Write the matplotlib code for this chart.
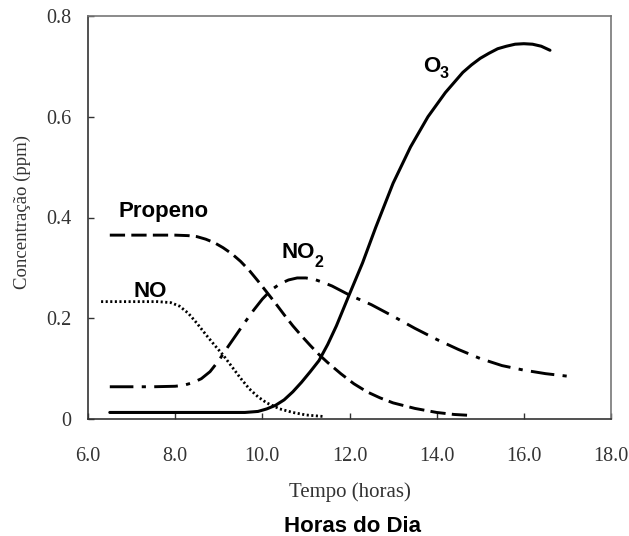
import matplotlib
matplotlib.use("Agg")
import matplotlib.pyplot as plt

# ---- data ----
propeno_x = [6.5, 7.0, 7.5, 8.0, 8.3, 8.5, 8.7, 8.9, 9.1, 9.3, 9.5, 9.7, 9.9, 10.1,
             10.3, 10.5, 10.7, 10.9, 11.1, 11.3, 11.5, 11.8, 12.1, 12.4, 12.7, 13.0,
             13.5, 14.0, 14.4, 14.8]
propeno_y = [0.365, 0.365, 0.365, 0.365, 0.364, 0.362, 0.357, 0.35, 0.34, 0.328, 0.313,
             0.295, 0.274, 0.252, 0.23, 0.207, 0.185, 0.165, 0.146, 0.128, 0.112, 0.09,
             0.07, 0.054, 0.042, 0.032, 0.021, 0.013, 0.009, 0.007]

no_x = [6.3, 7.0, 7.6, 7.9, 8.1, 8.3, 8.5, 8.7, 8.9, 9.1, 9.3, 9.5, 9.7, 9.9, 10.1,
        10.4, 10.7, 11.0, 11.4]
no_y = [0.233, 0.233, 0.233, 0.231, 0.224, 0.21, 0.19, 0.168, 0.147, 0.127, 0.104,
        0.081, 0.06, 0.044, 0.032, 0.02, 0.013, 0.008, 0.005]

no2_x = [6.5, 7.0, 7.5, 8.0, 8.2, 8.4, 8.6, 8.8, 9.0, 9.2, 9.4, 9.6, 9.8, 10.0, 10.2,
         10.4, 10.6, 10.8, 11.0, 11.2, 11.4, 11.6, 11.8, 12.0, 12.5, 13.0, 13.5, 14.0,
         14.5, 15.0, 15.5, 16.0, 16.5, 17.0]
no2_y = [0.064, 0.064, 0.064, 0.065, 0.067, 0.072, 0.08, 0.094, 0.116, 0.142, 0.167,
         0.192, 0.216, 0.238, 0.256, 0.268, 0.276, 0.28, 0.28, 0.277, 0.271, 0.264,
         0.255, 0.246, 0.227, 0.204, 0.18, 0.158, 0.138, 0.12, 0.106, 0.097, 0.09,
         0.085]

o3_x = [6.5, 8.0, 9.0, 9.6, 9.9, 10.1, 10.3, 10.5, 10.7, 10.9, 11.1, 11.3, 11.5, 11.7,
        12.0, 12.3, 12.6, 13.0, 13.4, 13.8, 14.2, 14.6, 14.8, 15.0, 15.2, 15.4, 15.6,
        15.8, 16.0, 16.2, 16.4, 16.6]
o3_y = [0.013, 0.013, 0.013, 0.013, 0.015, 0.02, 0.027, 0.038, 0.054, 0.073, 0.094,
        0.116, 0.148, 0.185, 0.248, 0.31, 0.38, 0.468, 0.54, 0.6, 0.648, 0.688, 0.703,
        0.716, 0.726, 0.735, 0.74, 0.744, 0.745, 0.744, 0.74, 0.732]

x_ticks = [6, 8, 10, 12, 14, 16, 18]
x_tick_labels = ["6.0", "8.0", "10.0", "12.0", "14.0", "16.0", "18.0"]
y_ticks = [0, 0.2, 0.4, 0.6, 0.8]
y_tick_labels = ["0", "0.2", "0.4", "0.6", "0.8"]

plt.rcParams["lines.scale_dashes"] = False

fig = plt.figure(figsize=(6.29, 5.36), dpi=100)
ax = fig.add_axes([88 / 629, 117 / 536, (611 - 88) / 629, (419 - 16) / 536])

ax.plot(propeno_x, propeno_y, color="black", lw=2.1, dashes=(11, 4.5),
        dash_capstyle="butt", dash_joinstyle="round")
ax.plot(no_x, no_y, color="black", lw=2.0, dashes=(1.5, 1.8), dash_capstyle="butt")
ax.plot(no2_x, no2_y, color="black", lw=2.1, dashes=(17, 6, 3, 6), dash_capstyle="butt",
        dash_joinstyle="round")
ax.plot(o3_x, o3_y, color="black", lw=2.2, solid_capstyle="round", solid_joinstyle="round")

ax.set_xlim(6, 18)
ax.set_ylim(0, 0.8)
ax.set_xticks(x_ticks)
ax.set_xticklabels(x_tick_labels)
ax.set_yticks(y_ticks)
ax.set_yticklabels(y_tick_labels)

for lab in ax.get_xticklabels() + ax.get_yticklabels():
    lab.set_fontfamily("Liberation Serif")
    lab.set_fontsize(14.5)
    lab.set_color("#333333")

ax.tick_params(axis="x", direction="in", length=4, width=1, pad=20, color="#333333")
ax.tick_params(axis="y", direction="in", length=4, width=1, pad=12, color="#333333")

for side in ["left", "bottom"]:
    ax.spines[side].set_color("#333333")
    ax.spines[side].set_linewidth(1.2)
for side in ["top", "right"]:
    ax.spines[side].set_color("#777777")
    ax.spines[side].set_linewidth(1.2)

lab_kw = dict(family="Liberation Sans", weight="bold", fontsize=16, color="black",
              ha="left", va="baseline")
sub_kw = dict(family="Liberation Sans", weight="bold", fontsize=11.5, color="black",
              ha="left", va="baseline")
ax.text(6.69, 0.401, "Propeno", **lab_kw)
ax.text(7.055, 0.242, "NO", **lab_kw)
ax.text(10.45, 0.320, "NO", **lab_kw)
ax.text(11.20, 0.302, "2", **sub_kw)
ax.text(13.68, 0.689, "O", **lab_kw)
ax.text(14.07, 0.677, "3", **sub_kw)

fig.text(350 / 629, (536 - 497) / 536, "Tempo (horas)", family="Liberation Serif",
         fontsize=15, color="#333333", ha="center", va="baseline")
fig.text(352 / 629, (536 - 532) / 536, "Horas do Dia", family="Liberation Sans",
         weight="bold", fontsize=16, color="black", ha="center", va="baseline")
fig.text(22 / 629, (536 - 212) / 536, "Concentração (ppm)", family="Liberation Serif",
         fontsize=13.5, color="#333333", ha="center", va="center", rotation=90)

fig.savefig("out.png", dpi=100)
